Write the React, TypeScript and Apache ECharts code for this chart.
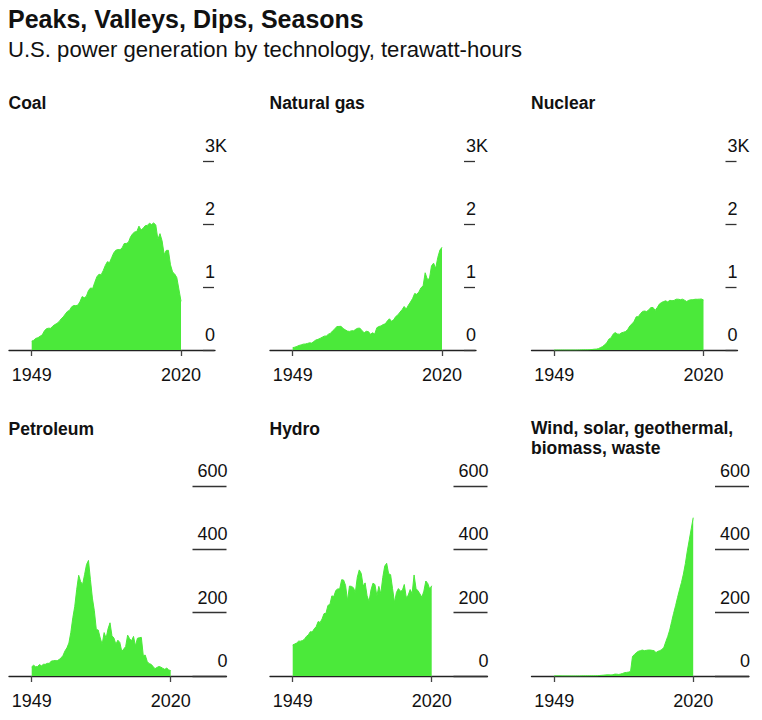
import React, { useEffect, useRef } from 'react';
import * as echarts from 'echarts';

// Years 1949..2020 (annual points)
const years: number[] = [];
for (let y = 1949; y <= 2020; y++) years.push(y);

// Terawatt-hours
const coal = [140, 155, 185, 195, 219, 239, 301, 338, 346, 344, 378, 403, 422, 450, 494, 526, 571, 613, 630, 685, 706, 704, 713, 771, 848, 828, 853, 944, 985, 976, 1075, 1162, 1203, 1192, 1259, 1342, 1402, 1386, 1464, 1541, 1584, 1594, 1591, 1621, 1690, 1691, 1709, 1795, 1845, 1874, 1881, 1966, 1904, 1933, 1974, 1978, 2013, 1991, 2017, 1986, 1756, 1847, 1733, 1514, 1581, 1582, 1352, 1239, 1206, 1150, 965, 773];
const naturalGas = [37, 45, 57, 72, 81, 93, 95, 104, 114, 110, 134, 158, 169, 184, 202, 220, 222, 251, 265, 304, 333, 373, 374, 376, 341, 320, 300, 295, 306, 305, 330, 346, 346, 305, 274, 297, 292, 249, 273, 253, 353, 373, 382, 404, 415, 460, 496, 455, 479, 531, 556, 601, 639, 691, 650, 710, 761, 816, 897, 883, 921, 988, 1014, 1226, 1125, 1127, 1335, 1378, 1296, 1469, 1586, 1630];
const nuclear = [0, 0, 0, 0, 0, 0, 0, 0, 0, 0.2, 0.2, 0.5, 1.7, 2.3, 3.2, 3.3, 3.7, 5.5, 7.7, 12.5, 13.9, 21.8, 38.1, 54.1, 83.5, 114, 172.5, 191.1, 250.9, 276.4, 255.2, 251.1, 272.7, 282.8, 293.7, 327.6, 383.7, 414, 455.3, 527, 529.4, 576.9, 612.6, 618.8, 610.3, 640.4, 673.4, 674.7, 628.6, 673.7, 728.3, 753.9, 768.8, 780.1, 763.7, 788.5, 782, 787.2, 806.4, 806.2, 798.9, 807, 790.2, 769.3, 789, 797.2, 797.2, 805.7, 805, 807.1, 809.4, 795];
const petroleum = [29, 34, 29, 30, 36, 32, 37, 37, 40, 40, 47, 48, 49, 48, 52, 57, 65, 79, 89, 104, 138, 184, 220, 274, 318, 298, 289, 320, 352, 365, 304, 246, 206, 147, 145, 120, 100, 137, 119, 149, 168, 127, 120, 100, 113, 106, 78, 85, 93, 129, 118, 111, 125, 95, 119, 121, 122, 64, 66, 46, 39, 37, 30, 23, 27, 30, 28, 24, 21, 25, 19, 17];
const hydro = [98, 101, 104, 110, 110, 112, 116, 125, 130, 140, 139, 149, 156, 172, 169, 180, 197, 198, 223, 226, 253, 251, 270, 275, 275, 304, 303, 286, 238, 284, 283, 279, 264, 312, 335, 324, 284, 294, 253, 235, 272, 293, 289, 253, 283, 260, 311, 347, 356, 323, 320, 276, 232, 264, 276, 268, 270, 289, 248, 255, 273, 260, 319, 276, 269, 259, 249, 268, 300, 292, 274, 285];
const otherRenewables = [0.4, 0.4, 0.4, 0.4, 0.3, 0.3, 0.3, 0.3, 0.3, 0.2, 0.2, 0.2, 0.3, 0.3, 0.4, 0.5, 0.5, 0.5, 0.6, 0.7, 0.7, 0.8, 0.9, 1.5, 2.0, 2.5, 3.2, 3.6, 3.6, 3.3, 3.9, 6.0, 5.8, 4.8, 6.4, 8.2, 10.7, 11.3, 12.4, 14, 62, 68, 74, 78, 80, 82, 80, 81, 82, 82, 81, 80, 74, 78, 80, 84, 90, 108, 125, 145, 172, 198, 222, 248, 272, 295, 322, 355, 395, 430, 465, 500];

const panelTitles = ['Coal', 'Natural gas', 'Nuclear', 'Petroleum', 'Hydro', 'Wind, solar, geothermal,\nbiomass, waste'];
const panelSeries = [coal, naturalGas, nuclear, petroleum, hydro, otherRenewables];
const topTicks = ['0', '1', '2', '3K'];
const bottomTicks = ['0', '200', '400', '600'];
const xTickYears = [1949, 2020];

const FONT = '"Liberation Sans", Arial, Helvetica, sans-serif';
const GREEN = '#4BE93A';
const INK = '#111111';

export default function App() {
  const ref = useRef<HTMLDivElement>(null);

  useEffect(() => {
    document.body.style.margin = '0';
    if (!ref.current) return;
    const chart = echarts.init(ref.current, undefined, { renderer: 'svg' });

    const colLeft = [9, 270, 531.5];
    const grids: any[] = [];
    const xAxes: any[] = [];
    const yAxes: any[] = [];
    const series: any[] = [];
    const graphics: any[] = [];

    graphics.push({
      type: 'text', x: 8, y: 19,
      style: { text: 'Peaks, Valleys, Dips, Seasons', fontFamily: FONT, fontSize: 25, fontWeight: 'bold', fill: INK, verticalAlign: 'middle', align: 'left' },
    });
    graphics.push({
      type: 'text', x: 8, y: 49.5,
      style: { text: 'U.S. power generation by technology, terawatt-hours', fontFamily: FONT, fontSize: 22.1, fill: INK, verticalAlign: 'middle', align: 'left' },
    });

    for (let i = 0; i < 6; i++) {
      const row = i < 3 ? 0 : 1;
      const col = i % 3;
      const left = colLeft[col];
      const top = row === 0 ? 161 : 486;
      const height = row === 0 ? 189 : 190;
      const width = row === 0 ? 206 : 217.5;
      const pxPerYear = row === 0 ? 149.3 / 71 : 139 / 71;
      const xMin = 1949 - 22.7 / pxPerYear;
      const xMax = xMin + width / pxPerYear;

      grids.push({ left, top, width, height, outerBoundsMode: 'none', containLabel: false });

      xAxes.push({
        type: 'value',
        gridIndex: i,
        min: xMin,
        max: xMax,
        axisLine: { show: true, onZero: false, lineStyle: { color: '#222', width: 1.3 } },
        axisTick: { show: true, customValues: xTickYears, length: 6, lineStyle: { color: '#444', width: 1.3 } },
        axisLabel: {
          show: true,
          customValues: xTickYears,
          formatter: (v: number) => String(Math.round(v)),
          fontFamily: FONT, fontSize: 18, color: INK, margin: 16,
        },
        splitLine: { show: false },
      });

      const ticks = row === 0 ? topTicks : bottomTicks;
      const yMax = row === 0 ? 3000 : 600;
      const yInterval = row === 0 ? 1000 : 200;
      yAxes.push({
        type: 'value',
        gridIndex: i,
        position: 'right',
        offset: row === 0 ? -1 : 0,
        min: 0,
        max: yMax,
        interval: yInterval,
        axisLine: { show: false },
        axisTick: { show: true, inside: true, length: row === 0 ? 11 : 34, lineStyle: { color: '#333', width: 1.3 } },
        axisLabel: {
          show: true,
          formatter: (v: number) => ticks[Math.round(v / yInterval)] ?? '',
          fontFamily: FONT, fontSize: 18, color: INK,
          align: row === 0 ? 'left' : 'right',
          margin: row === 0 ? -9 : 1,
          verticalAlign: 'bottom',
          padding: [0, 0, 6, 0],
        },
        splitLine: { show: false },
      });

      series.push({
        type: 'line',
        xAxisIndex: i,
        yAxisIndex: i,
        data: years.map((y, k) => [y, panelSeries[i][k]]),
        showSymbol: false,
        symbol: 'none',
        lineStyle: { color: GREEN, width: 1 },
        areaStyle: { color: GREEN, opacity: 1 },
        itemStyle: { color: GREEN },
        silent: true,
      });

      graphics.push({
        type: 'text', x: left - 0.5, y: row === 0 ? 103 : 428.5,
        style: {
          text: panelTitles[i], fontFamily: FONT, fontSize: 17.5, fontWeight: 'bold', fill: INK,
          verticalAlign: 'middle', align: 'left', lineHeight: 20,
        },
      });
    }

    // the two-line title should start its first line at the same height as the others
    const last = graphics[graphics.length - 1];
    last.style.verticalAlign = 'top';
    last.y = 418;

    chart.setOption({
      animation: false,
      backgroundColor: '#ffffff',
      grid: grids,
      xAxis: xAxes,
      yAxis: yAxes,
      series,
      graphic: graphics,
    });

    return () => chart.dispose();
  }, []);

  return <div ref={ref} style={{ width: 762, height: 720 }} />;
}
